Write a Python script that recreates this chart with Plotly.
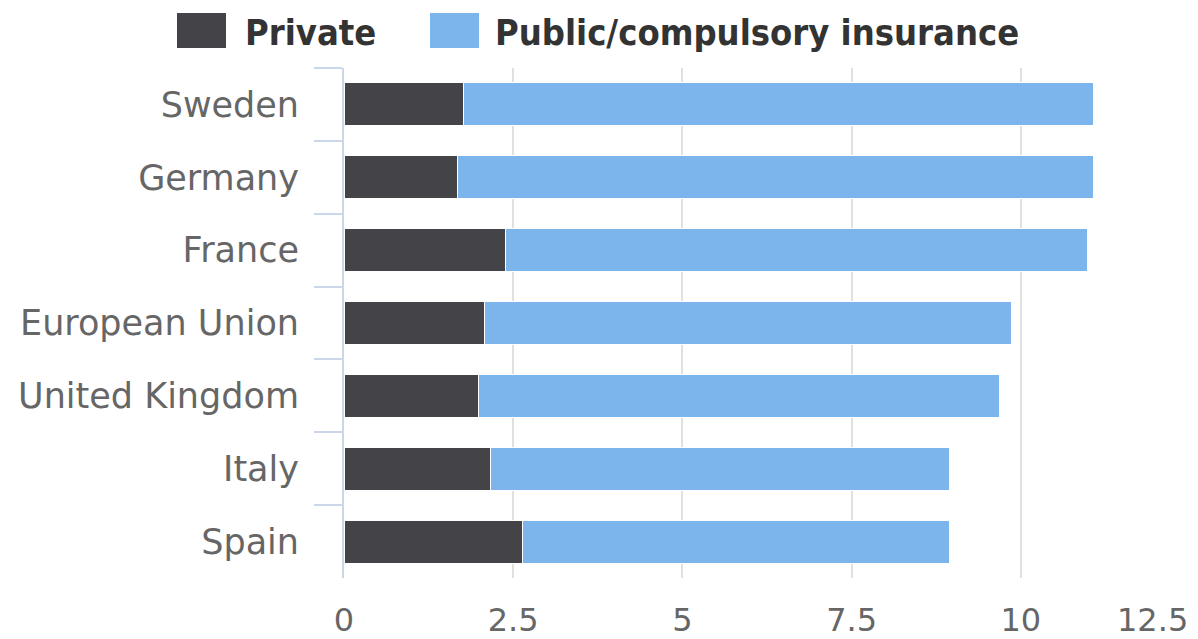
import plotly.graph_objects as go

# Health expenditure by financing scheme (% of GDP)
countries = ["Sweden", "Germany", "France", "European Union", "United Kingdom", "Italy", "Spain"]
private = [1.76, 1.67, 2.38, 2.07, 1.98, 2.16, 2.64]
public = [9.31, 9.40, 8.60, 7.79, 7.70, 6.79, 6.31]
x_ticks = [0, 2.5, 5, 7.5, 10, 12.5]
x_tick_text = ["0", "2.5", "5", "7.5", "10", "12.5"]

series_names = ["Private", "Public/compulsory insurance"]
series_colors = ["#434348", "#7cb5ec"]

fig = go.Figure()
for name, vals, col in zip(series_names, [private, public], series_colors):
    fig.add_trace(go.Bar(
        y=countries, x=vals, name=name, orientation="h",
        marker=dict(color=col, line=dict(color="#ffffff", width=1)),
        width=0.59, showlegend=False,
    ))

# Plot-area geometry in pixels (used to place the custom legend)
L, R, T, B = 344, 8, 68, 61
W, H = 1198, 639
pw, ph = W - L - R, H - T - B


def px_x(px):
    return (px - L) / pw


def px_y(py):
    return (H - B - py) / ph


legend_items = [
    (series_names[0], series_colors[0], 177, 243),
    (series_names[1], series_colors[1], 430, 493),
]
shapes = []
annotations = []
for name, col, sx, tx in legend_items:
    shapes.append(dict(
        type="rect", xref="paper", yref="paper",
        x0=px_x(sx), x1=px_x(sx + 49), y0=px_y(48), y1=px_y(13),
        fillcolor=col, line=dict(width=0),
    ))
    annotations.append(dict(
        text="<b>" + name + "</b>", xref="paper", yref="paper",
        x=px_x(tx), y=px_y(32), xanchor="left", yanchor="middle",
        showarrow=False,
        font=dict(family="Liberation Sans Narrow, DejaVu Sans Condensed", size=36, color="#333333"),
    ))

tick_font = dict(family="DejaVu Sans", size=32, color="#666666")

# The last x label is kept inside the chart, right-aligned to its gridline
shown_text = x_tick_text[:-1] + [""]
annotations.append(dict(
    text=x_tick_text[-1], xref="x", yref="paper",
    x=x_ticks[-1], y=px_y(620), xanchor="right", yanchor="middle",
    showarrow=False, font=tick_font,
))

fig.update_layout(
    barmode="stack",
    width=W, height=H,
    margin=dict(l=L, r=R, t=T, b=B, pad=0, autoexpand=False),
    paper_bgcolor="#ffffff",
    plot_bgcolor="#ffffff",
    shapes=shapes,
    annotations=annotations,
    xaxis=dict(
        range=[0, 12.5],
        tickvals=x_ticks, ticktext=shown_text,
        showgrid=True, gridcolor="#e0e0e0", gridwidth=2,
        zeroline=False, showline=False, ticks="",
        ticklabelstandoff=20, automargin=False,
        tickfont=tick_font,
    ),
    yaxis=dict(
        categoryorder="array", categoryarray=countries,
        autorange="reversed", automargin=False,
        showgrid=False, zeroline=False,
        showline=True, linecolor="#ccd6eb", linewidth=2,
        ticks="outside", tickson="boundaries", ticklen=28,
        tickcolor="#ccd6eb", tickwidth=2,
        ticklabelstandoff=36,
        tickfont=dict(family="DejaVu Sans", size=35, color="#666666"),
    ),
)

fig.write_html("out.html")
